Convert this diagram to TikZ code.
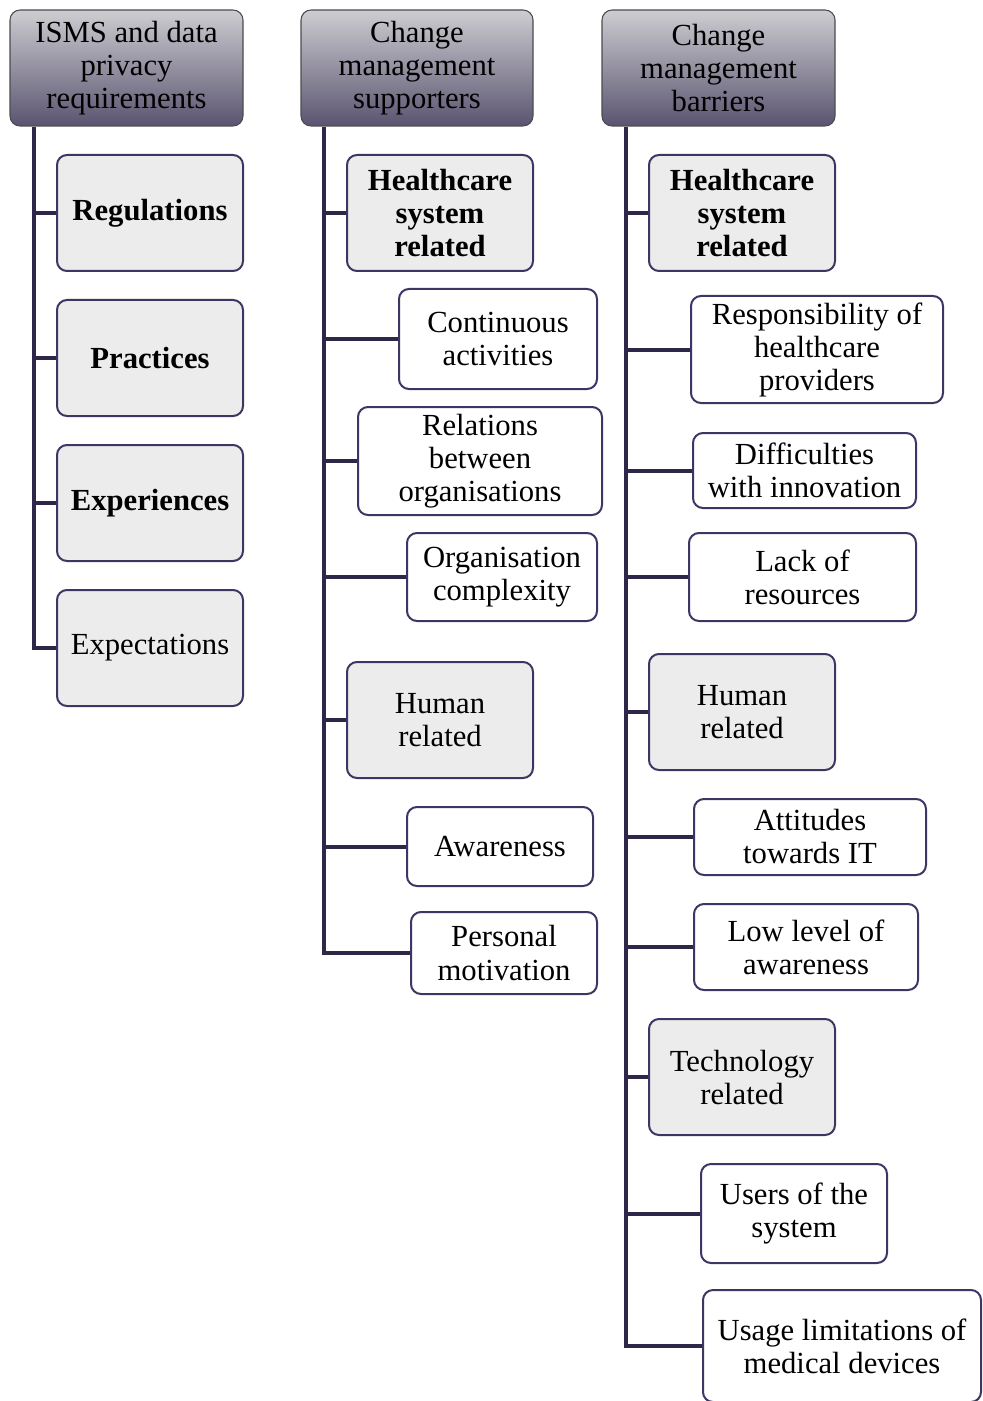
\documentclass[tikz,border=0pt]{standalone}
\usepackage{fontspec}
\setmainfont{Liberation Serif}
\usetikzlibrary{positioning}
\definecolor{lineclr}{HTML}{2E2748}
\definecolor{boxclr}{HTML}{3D3563}
\definecolor{catfill}{HTML}{ECECEC}
\definecolor{hdtop}{HTML}{CDCDD1}
\definecolor{hdbot}{HTML}{5A5470}

\begin{document}
\begin{tikzpicture}[x=0.75pt,y=-0.75pt,
  every node/.style={font=\fontsize{23}{24.75}\selectfont,align=center,inner sep=0pt,rounded corners=7.5pt},
  sz/.style 2 args={minimum width=#1*0.75pt,minimum height=#2*0.75pt},
  header/.style={draw=gray!60!black,line width=0.8pt,top color=hdtop,bottom color=hdbot},
  catbox/.style={draw=boxclr,line width=1.5pt,fill=catfill},
  itembox/.style={draw=boxclr,line width=1.5pt,fill=white},
  trunk/.style={draw=lineclr,line width=3pt}]
  \useasboundingbox (0,0) rectangle (982,1401);
  % ISMS column
  \node[header,sz={233}{116}] (h1) at (126.5,68) {ISMS and data\\privacy\\requirements};
  \node[catbox,sz={186}{116}] (reg) at (150,213) {\textbf{Regulations}};
  \node[catbox,sz={186}{116}] (pra) at (150,358) {\textbf{Practices}};
  \node[catbox,sz={186}{116}] (expe) at (150,503) {\textbf{Experiences}};
  \node[catbox,sz={186}{116}] (expt) at (150,648) {Expectations};
  \draw[trunk] ([xshift=18.75pt]h1.south west) coordinate (t1) |- (expt.west);
  \foreach \n in {reg,pra,expe}
    \draw[trunk] (t1 |- \n.west) -- (\n.west);
  % supporters column
  \node[header,sz={232}{116}] (h2) at (417,68) {Change\\management\\supporters};
  \node[catbox,sz={186}{116}] (hsys2) at (440,213) {\textbf{Healthcare}\\\textbf{system}\\\textbf{related}};
  \node[itembox,sz={198}{100}] (cont) at (498,339) {Continuous\\activities};
  \node[itembox,sz={244}{108}] (rel) at (480,461) {Relations\\between\\organisations};
  \node[itembox,sz={190}{88}] (orgc) at (502,577) {Organisation\\complexity};
  \node[catbox,sz={186}{116}] (hum2) at (440,720) {Human\\related};
  \node[itembox,sz={186}{79}] (awa) at (500,846.5) {Awareness};
  \node[itembox,sz={186}{82}] (pers) at (504,953) {Personal\\motivation};
  \draw[trunk] ([xshift=18pt]h2.south west) coordinate (t2) |- (pers.west);
  \foreach \n in {hsys2,cont,rel,orgc,hum2,awa}
    \draw[trunk] (t2 |- \n.west) -- (\n.west);
  % barriers column
  \node[header,sz={233}{116}] (h3) at (718.5,68) {Change\\management\\barriers};
  \node[catbox,sz={186}{116}] (hsys3) at (742,213) {\textbf{Healthcare}\\\textbf{system}\\\textbf{related}};
  \node[itembox,sz={252}{107}] (resp) at (817,349.5) {Responsibility of\\healthcare\\providers};
  \node[itembox,sz={223}{75}] (diff) at (804.5,470.5) {Difficulties\\with innovation};
  \node[itembox,sz={227}{88}] (lack) at (802.5,577) {Lack of\\resources};
  \node[catbox,sz={186}{116}] (hum3) at (742,712) {Human\\related};
  \node[itembox,sz={232}{76}] (att) at (810,837) {Attitudes\\towards IT};
  \node[itembox,sz={224}{86}] (low) at (806,947) {Low level of\\awareness};
  \node[catbox,sz={186}{116}] (tech) at (742,1077) {Technology\\related};
  \node[itembox,sz={186}{99}] (users) at (794,1213.5) {Users of the\\system};
  \node[itembox,sz={278}{112}] (usage) at (842,1346) {Usage limitations of\\medical devices};
  \draw[trunk] ([xshift=18.75pt]h3.south west) coordinate (t3) |- (usage.west);
  \foreach \n in {hsys3,resp,diff,lack,hum3,att,low,tech,users}
    \draw[trunk] (t3 |- \n.west) -- (\n.west);
\end{tikzpicture}
\end{document}
